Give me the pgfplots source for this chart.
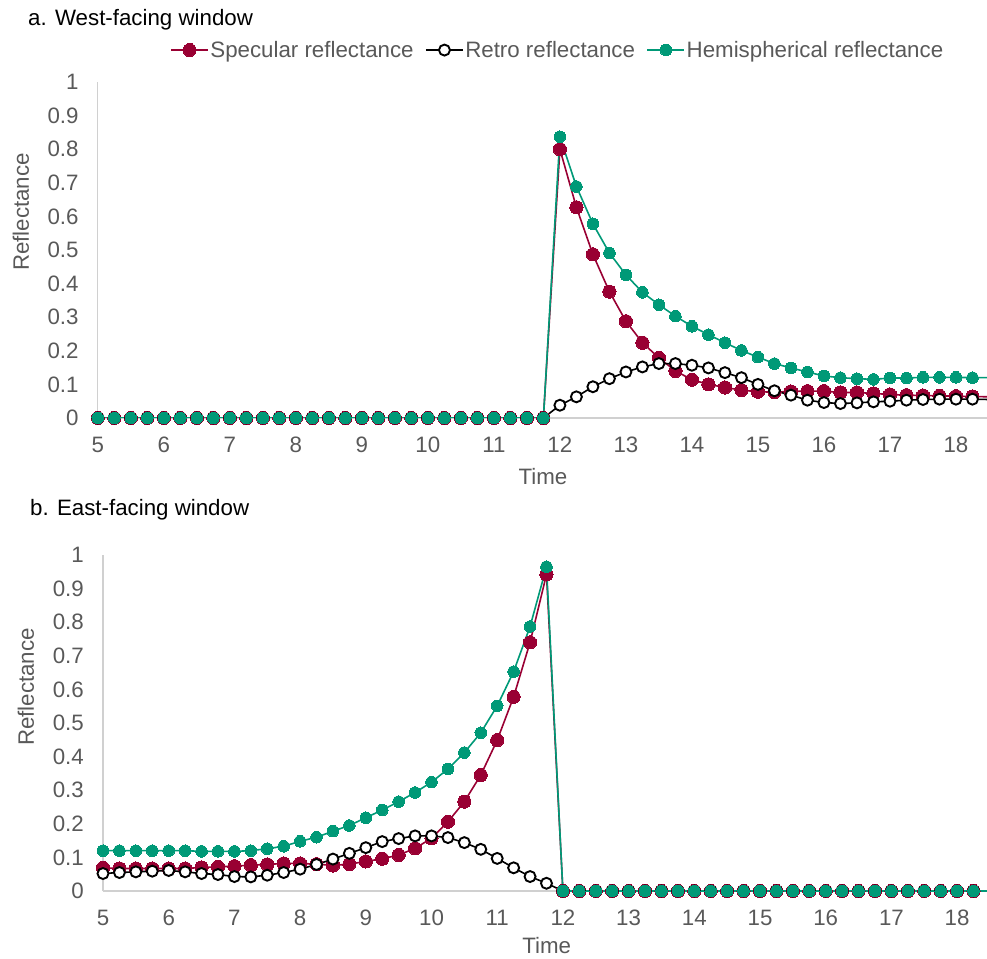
\documentclass[border=0pt]{standalone}
\usepackage{pgfplots}
\usepackage{pgfplotstable}
\pgfplotsset{compat=1.18}
\usepackage{fontspec}
\setmainfont{Liberation Sans}
\definecolor{spec}{RGB}{153,0,51}
\definecolor{hemi}{RGB}{0,153,119}
\definecolor{axgray}{HTML}{D0D0D0}
\definecolor{txtgray}{HTML}{595959}

\pgfplotstableread{
x S R H
5 0 0 0
5.25 0 0 0
5.5 0 0 0
5.75 0 0 0
6 0 0 0
6.25 0 0 0
6.5 0 0 0
6.75 0 0 0
7 0 0 0
7.25 0 0 0
7.5 0 0 0
7.75 0 0 0
8 0 0 0
8.25 0 0 0
8.5 0 0 0
8.75 0 0 0
9 0 0 0
9.25 0 0 0
9.5 0 0 0
9.75 0 0 0
10 0 0 0
10.25 0 0 0
10.5 0 0 0
10.75 0 0 0
11 0 0 0
11.25 0 0 0
11.5 0 0 0
11.75 0 0 0
12 0.800 0.038 0.837
12.25 0.627 0.063 0.689
12.5 0.487 0.093 0.578
12.75 0.376 0.117 0.491
13 0.288 0.137 0.426
13.25 0.224 0.152 0.374
13.5 0.179 0.162 0.337
13.75 0.140 0.162 0.303
14 0.114 0.157 0.273
14.25 0.100 0.149 0.248
14.5 0.091 0.135 0.224
14.75 0.083 0.120 0.201
15 0.078 0.100 0.181
15.25 0.077 0.081 0.162
15.5 0.079 0.068 0.149
15.75 0.080 0.053 0.137
16 0.080 0.046 0.125
16.25 0.076 0.043 0.120
16.5 0.076 0.045 0.117
16.75 0.073 0.048 0.115
17 0.070 0.050 0.119
17.25 0.068 0.053 0.119
17.5 0.067 0.055 0.121
17.75 0.066 0.056 0.121
18 0.065 0.056 0.121
18.25 0.064 0.056 0.120
18.5 0.063 0.055 0.120
}\westdata

\pgfplotstableread{
x S R H
5 0.069 0.052 0.120
5.25 0.067 0.055 0.120
5.5 0.067 0.057 0.120
5.75 0.067 0.059 0.120
6 0.067 0.061 0.120
6.25 0.067 0.057 0.120
6.5 0.070 0.052 0.118
6.75 0.072 0.049 0.118
7 0.074 0.043 0.118
7.25 0.077 0.042 0.120
7.5 0.079 0.047 0.126
7.75 0.082 0.055 0.133
8 0.082 0.065 0.148
8.25 0.080 0.079 0.160
8.5 0.076 0.095 0.178
8.75 0.080 0.112 0.195
9 0.088 0.129 0.218
9.25 0.096 0.147 0.241
9.5 0.107 0.156 0.266
9.75 0.127 0.164 0.293
10 0.157 0.164 0.324
10.25 0.206 0.159 0.363
10.5 0.266 0.144 0.412
10.75 0.345 0.124 0.471
11 0.449 0.097 0.551
11.25 0.578 0.069 0.653
11.5 0.740 0.043 0.787
11.75 0.942 0.023 0.965
12 0 0 0
12.25 0 0 0
12.5 0 0 0
12.75 0 0 0
13 0 0 0
13.25 0 0 0
13.5 0 0 0
13.75 0 0 0
14 0 0 0
14.25 0 0 0
14.5 0 0 0
14.75 0 0 0
15 0 0 0
15.25 0 0 0
15.5 0 0 0
15.75 0 0 0
16 0 0 0
16.25 0 0 0
16.5 0 0 0
16.75 0 0 0
17 0 0 0
17.25 0 0 0
17.5 0 0 0
17.75 0 0 0
18 0 0 0
18.25 0 0 0
18.5 0 0 0
}\eastdata

\newcommand{\chartfont}{\fontsize{22.3}{26}\selectfont}

\pgfplotsset{
  sS/.style={color=spec, line width=1.6pt, mark=*, mark size=6.6pt,
    mark options={fill=spec, draw=spec, line width=0pt}},
  sR/.style={color=black, line width=1.6pt, mark=*, mark size=5.5pt,
    mark options={fill=white, draw=black, line width=1.9pt}},
  sH/.style={color=hemi, line width=1.6pt, mark=*, mark size=5.8pt,
    mark options={fill=hemi, draw=hemi, line width=0pt}},
  reflaxis/.style={
    scale only axis, height=336pt,
    xmin=5, ymin=0, ymax=1,
    axis x line*=bottom, axis y line*=left,
    axis line style={draw=axgray, line width=1.4pt, -},
    xtick={5,6,7,8,9,10,11,12,13,14,15,16,17,18},
    ytick={0,0.1,0.2,0.3,0.4,0.5,0.6,0.7,0.8,0.9,1},
    major tick length=0pt,
    /pgf/number format/assume math mode=true,
    tick label style={font=\chartfont, text=txtgray},
    yticklabel style={anchor=east, inner sep=0pt, xshift=-19pt},
    xticklabel style={anchor=north, inner sep=0pt, yshift=-19pt},
    label style={font=\chartfont, text=txtgray},
    title style={font=\chartfont, text=black, anchor=base west, inner sep=0pt},
    clip=true,
    legend image code/.code={\draw[mark repeat=2, mark phase=2, #1] plot coordinates {(0pt,0pt) (18.5pt,0pt) (37pt,0pt)};},
  },
}

\begin{document}
\begin{tikzpicture}
\useasboundingbox (0,0) rectangle (987pt,958pt);

\begin{axis}[reflaxis,
  at={(97.8pt,540pt)}, anchor=south west,
  width=889.2pt, xmax=18.47,
  title={a. West-facing window},
  title style={at={(rel axis cs:-0.0785,1.1488)}},
  xlabel={Time}, ylabel={Reflectance},
  xlabel style={at={(rel axis cs:0.5007,-0.1756)}, anchor=center, inner sep=0pt},
  ylabel style={at={(rel axis cs:-0.0864,0.613)}, anchor=center, inner sep=0pt},
  legend style={at={(rel axis cs:0.517,1.095)}, anchor=center, draw=none, fill=none,
    legend columns=3, font=\chartfont, text=txtgray,
    nodes={inner sep=1.5pt},
    /tikz/every even column/.append style={column sep=10pt}},
]
\addplot[sS, mark indices={1,...,54}, forget plot] table[x=x, y=S] {\westdata};
\addplot[sR, mark indices={1,...,54}, forget plot] table[x=x, y=R] {\westdata};
\addplot[sH, mark indices={1,...,54}, forget plot] table[x=x, y=H] {\westdata};
\addlegendimage{sS}\addlegendentry{Specular reflectance}
\addlegendimage{sR}\addlegendentry{Retro reflectance}
\addlegendimage{sH}\addlegendentry{Hemispherical reflectance}
\end{axis}

\begin{axis}[reflaxis,
  at={(103pt,67pt)}, anchor=south west,
  width=884pt, xmax=18.455,
  title={b. East-facing window},
  title style={at={(rel axis cs:-0.0826,1.0982)}},
  xlabel={Time}, ylabel={Reflectance},
  xlabel style={at={(rel axis cs:0.502,-0.163)}, anchor=center, inner sep=0pt},
  ylabel style={at={(rel axis cs:-0.0871,0.607)}, anchor=center, inner sep=0pt},
]
\addplot[sS, mark indices={1,...,54}] table[x=x, y=S] {\eastdata};
\addplot[sR, mark indices={1,...,54}] table[x=x, y=R] {\eastdata};
\addplot[sH, mark indices={1,...,54}] table[x=x, y=H] {\eastdata};
\end{axis}
\end{tikzpicture}
\end{document}
